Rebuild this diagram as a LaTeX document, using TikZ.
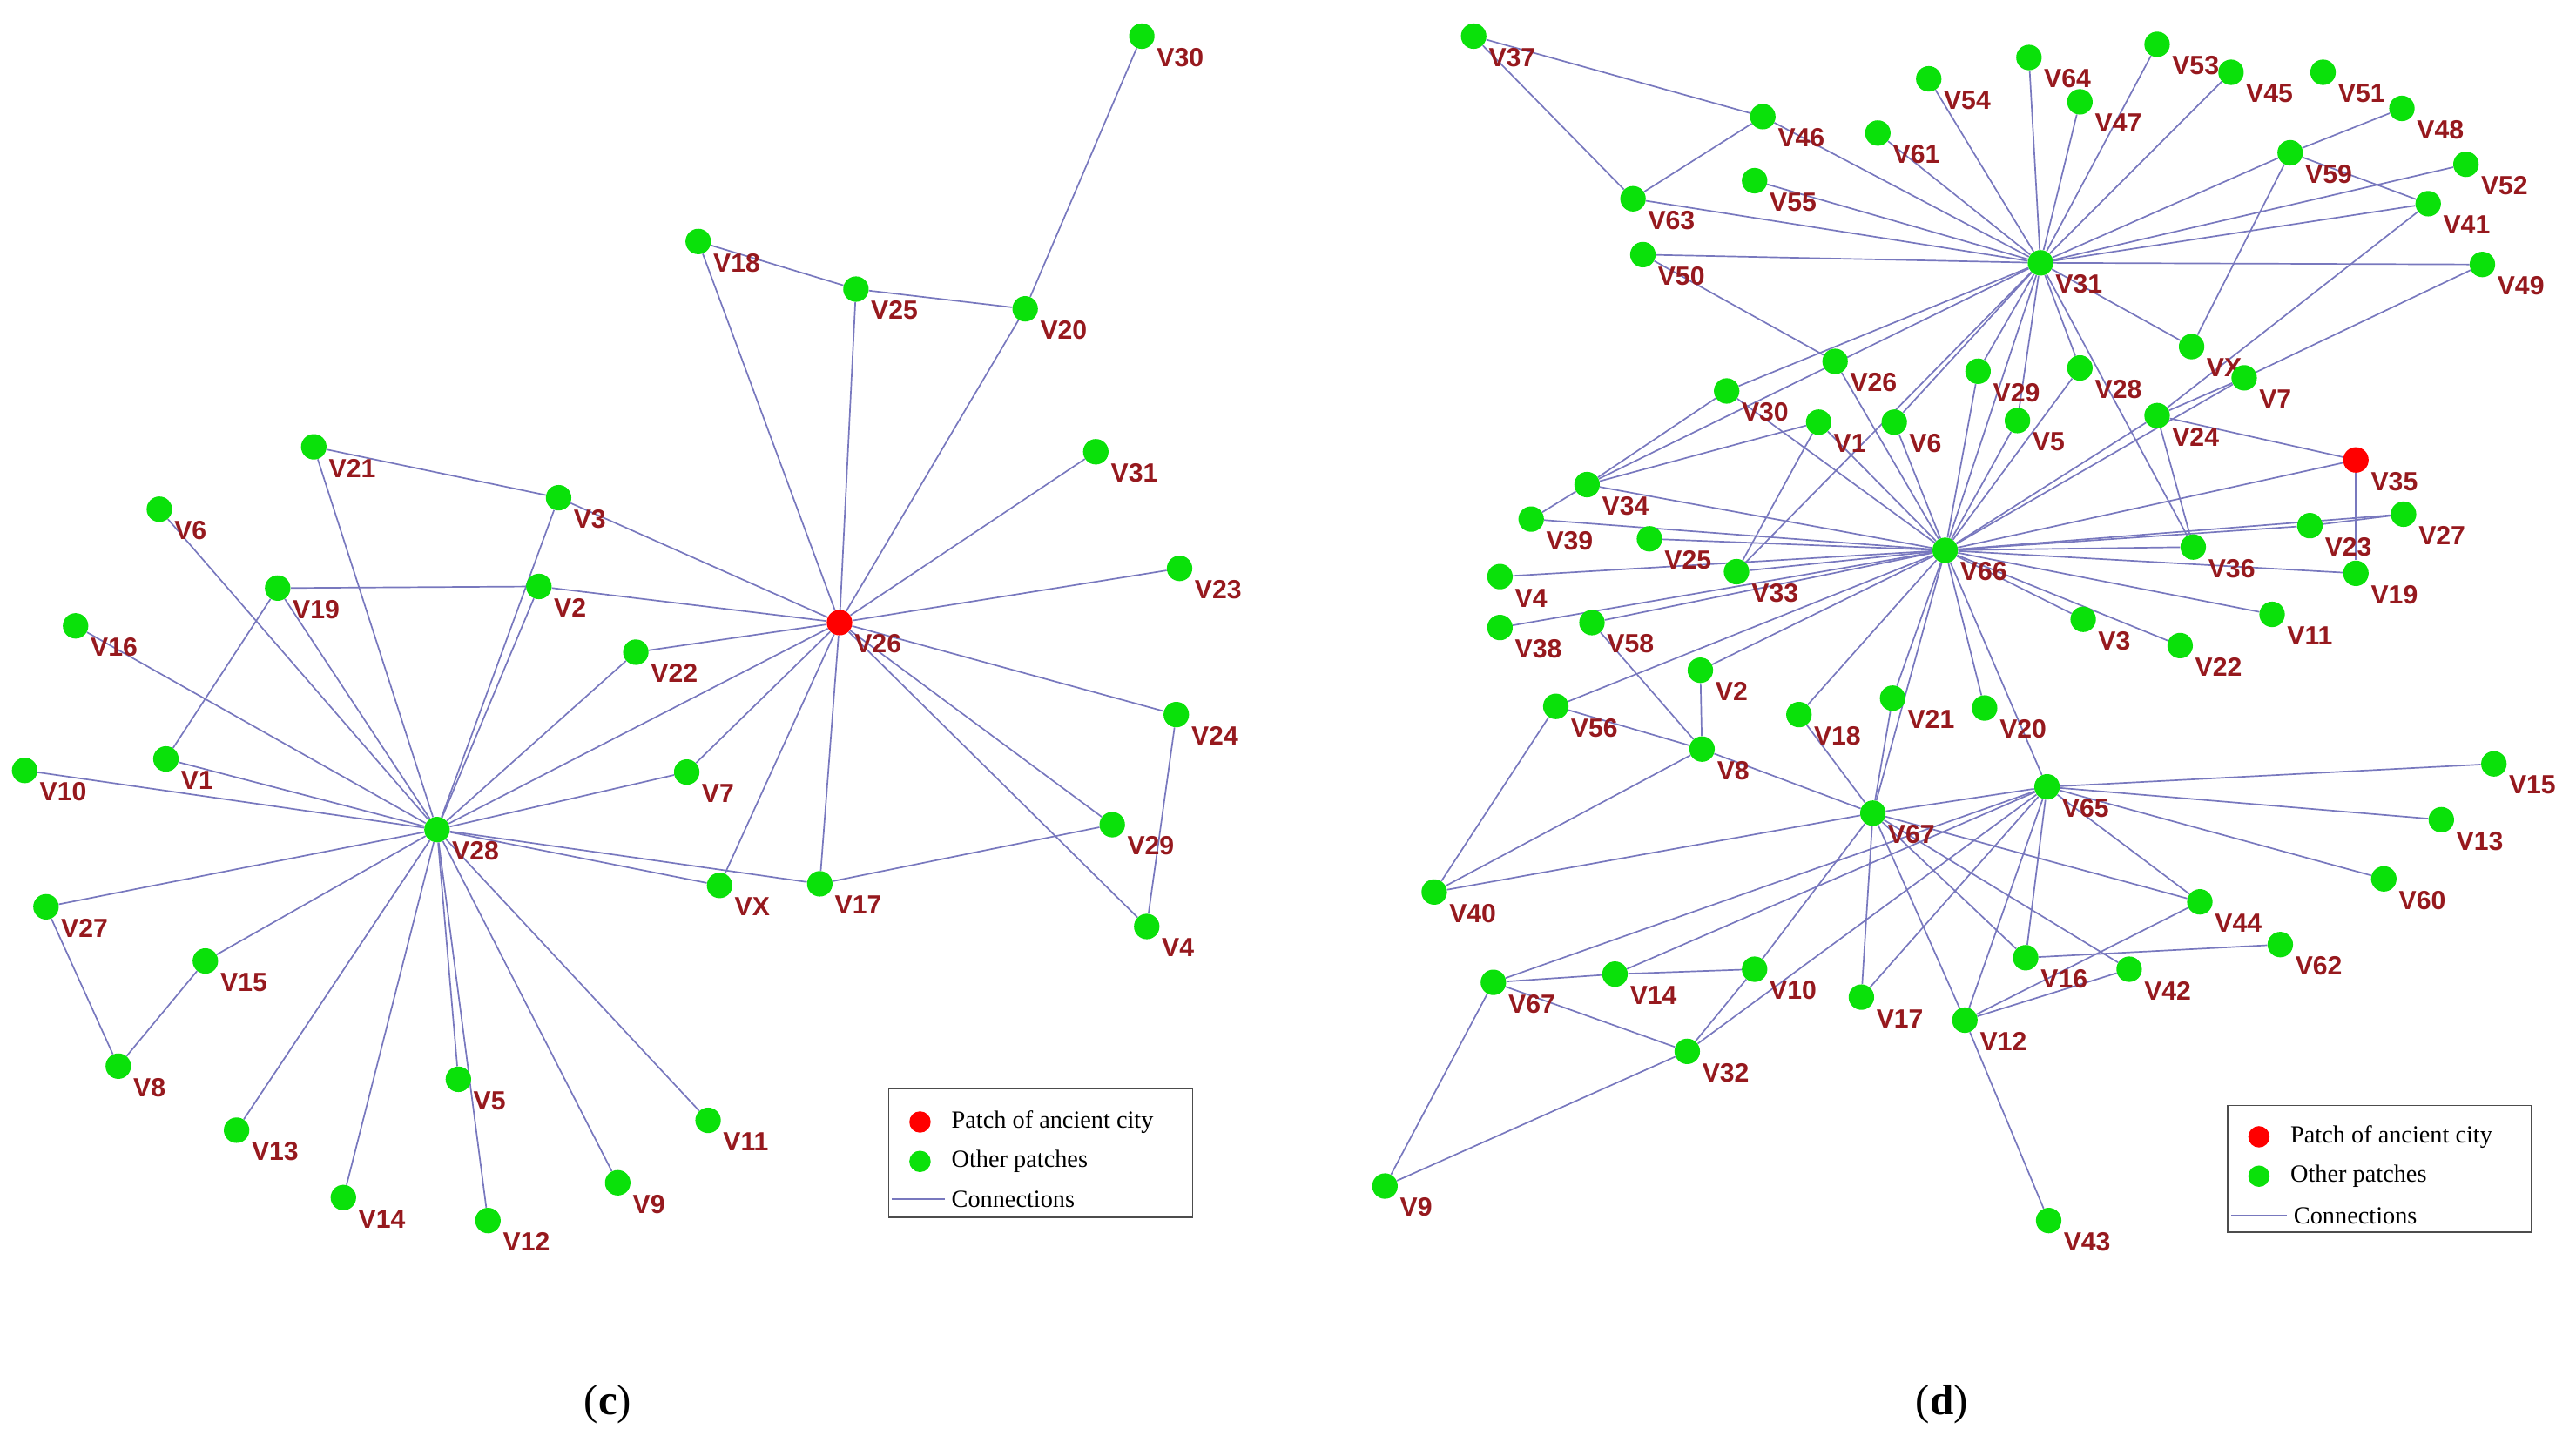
\documentclass[tikz,border=0pt]{standalone}
\usepackage{fontspec}
\setmainfont{Liberation Serif}
\newfontfamily\labfont{Liberation Sans}
\usetikzlibrary{backgrounds}
\definecolor{ng}{RGB}{10,225,10}
\definecolor{lr}{RGB}{150,25,30}
\definecolor{ec}{RGB}{120,120,190}
\tikzset{
 g/.style={circle,fill=ng,inner sep=0pt,minimum width=14.5pt,minimum height=15.5pt},
 r/.style={g,fill=red},
 lab/.style={anchor=west,inner sep=0pt,text=lr,font=\labfont\bfseries\fontsize{16}{16}\selectfont},
 e/.style={draw=ec,line width=0.9pt},
 leg/.style={anchor=west,inner sep=0pt,font=\fontsize{15}{15}\selectfont},
}
\begin{document}
\begin{tikzpicture}[x=1pt,y=-1pt]
\useasboundingbox (0,0) rectangle (1568,882);
% ---- panel c nodes
\foreach \n/\x/\y in {30/695/22,18/425/147,25/521/176,20/624/188,31/667/275,21/191/272,3/340/303,6/97/310,19/169/358,2/328/357,23/718/346,16/46/381,22/387/397,24/716/435,1/101/462,10/15/469,7/418/470,28/266/505,29/677/502,X/438/539,17/499/538,27/28/552,4/698/564,15/125/585,8/72/649,5/279/657,11/431/682,13/144/688,9/376/720,14/209/729,12/297/743}
 {\node[g] (c\n) at (\x,\y) {}; \node[lab] at (\x+9,\y+13) {V\n};}
\node[r] (c26) at (511,379) {}; \node[lab] at (520,392) {V26};
\begin{scope}[on background layer]
\foreach \a/\b in {30/20,18/25,25/20,18/26,25/26,20/26,31/26,23/26,26/24,26/29,26/4,24/4,26/17,26/X,26/22,26/2,26/3,26/7,26/28,
 28/6,28/19,28/21,28/3,28/2,28/16,28/1,28/10,28/27,28/15,28/22,28/7,28/X,28/17,28/13,28/14,28/5,28/12,28/9,28/11,
 19/1,19/2,21/3,27/8,8/15,17/29}
 \draw[e] (c\a) -- (c\b);
\end{scope}
% ---- panel d nodes
\foreach \n/\x/\y in {37/897/22,46/1073/71,54/1174/48,64/1235/35,53/1313/27,45/1358/44,51/1414/44,47/1266/62,48/1462/66,61/1143/81,59/1394/93,52/1501/100,55/1068/110,63/994/121,41/1478/124,50/1000/155,31/1242/160,49/1511/161,X/1334/211,7/1366/230,26/1117/220,29/1204/226,28/1266/224,30/1051/238,1/1107/257,6/1153/257,5/1228/256,24/1313/253,34/966/295,39/932/316,25/1004/328,23/1406/320,27/1463/313,36/1335/333,66/1184/335,33/1057/348,19/1434/349,4/913/351,11/1383/374,3/1268/377,38/913/382,58/969/379,22/1327/393,2/1035/408,56/947/430,18/1095/435,21/1152/425,20/1208/431,8/1036/456,15/1518/465,65/1246/479,67/1140/495,13/1486/499,60/1451/535,40/873/543,44/1339/549,62/1388/575,16/1233/583,42/1296/590,14/983/593,10/1068/590,17/1133/607,12/1196/621,32/1027/640,9/843/722,43/1247/743}
 {\node[g] (d\n) at (\x,\y) {}; \node[lab] at (\x+9,\y+13) {V\n};}
\node[g] (d67b) at (909,598) {}; \node[lab] at (918,611) {V67};
\node[r] (d35) at (1434,280) {}; \node[lab] at (1443,293) {V35};
\begin{scope}[on background layer]
\foreach \a/\b in {37/46,37/63,46/63,46/31,54/31,64/31,53/31,47/31,45/31,61/31,55/31,63/31,50/31,49/31,41/31,52/31,59/31,48/59,59/41,59/X,31/X,41/24,49/7,7/24,50/26,
 31/34,31/30,31/33,31/6,31/29,31/5,31/66,31/28,31/36,
 66/26,66/30,66/1,66/6,66/29,66/5,66/28,66/24,66/7,66/35,66/23,66/27,66/36,66/19,66/11,66/3,66/22,66/34,66/39,66/25,66/4,66/33,66/38,66/58,66/56,66/2,66/18,66/21,66/20,66/67,66/65,
 1/34,1/33,30/34,34/39,24/35,24/36,35/19,23/27,58/8,2/8,56/8,56/40,8/40,8/67,67/40,18/67,21/67,
 65/15,65/13,65/60,65/44,67/44,67/65,67/16,67/42,67/12,67/17,67/10,65/67b,65/14,65/32,65/17,65/16,65/12,
 67b/14,14/10,10/32,67b/32,67b/9,9/32,16/62,44/12,12/42,12/43}
 \draw[e] (d\a) -- (d\b);
\end{scope}
% ---- legends
\draw[black!70,line width=0.8pt] (541,663) rectangle (726,741);
\node[r,minimum width=13pt,minimum height=13pt] (lc1) at (560,683) {}; \node[leg] at (579,683) {Patch of ancient city};
\node[g,minimum width=13pt,minimum height=13pt] (lc2) at (560,707) {}; \node[leg] at (579,707) {Other patches};
\coordinate (lc3a) at (543,730); \coordinate (lc3b) at (575,730);
\draw[e] (lc3a) -- (lc3b); \node[leg] at (579,730) {Connections};
\draw[black!70,line width=0.8pt] (1356,673) rectangle (1541,750);
\node[r,minimum width=13pt,minimum height=13pt] (ld1) at (1375,692) {}; \node[leg] at (1394,692) {Patch of ancient city};
\node[g,minimum width=13pt,minimum height=13pt] (ld2) at (1375,716) {}; \node[leg] at (1394,716) {Other patches};
\coordinate (ld3a) at (1358,740); \coordinate (ld3b) at (1392,740);
\draw[e] (ld3a) -- (ld3b); \node[leg] at (1396,740) {Connections};
% ---- captions
\node[font=\fontsize{26}{26}\selectfont] (capc) at (370,855) {(\textbf{c})};
\node[font=\fontsize{26}{26}\selectfont] (capd) at (1182,855) {(\textbf{d})};
\end{tikzpicture}
\end{document}
